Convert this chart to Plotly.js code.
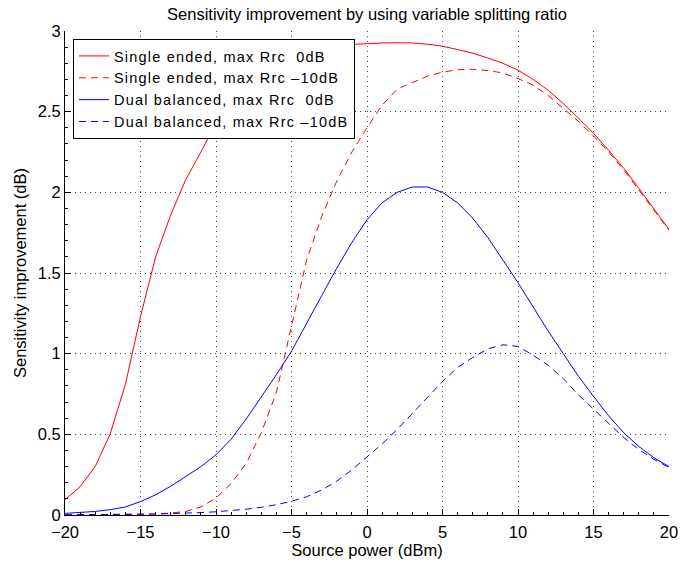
<!DOCTYPE html>
<html>
<head>
<meta charset="utf-8">
<script src="https://cdn.plot.ly/plotly-3.0.1.min.js"></script>
<style>
html,body{margin:0;padding:0;background:#fff;}
#chart{width:682px;height:566px;}
text.legendtext{letter-spacing:1.2px;}
</style>
</head>
<body>
<div id="chart"></div>
<script>
const sourcePower = [-20,-19,-18,-17,-16,-15,-14,-13,-12,-11,-10,-9,-8,-7,-6,-5,-4,-3,-2,-1,0,1,2,3,4,5,6,7,8,9,10,11,12,13,14,15,16,17,18,19,20];

const singleEnded0dB = [0.095,0.175,0.30,0.505,0.81,1.23,1.60,1.86,2.08,2.25,2.43,2.55,2.65,2.73,2.79,2.84,2.875,2.90,2.912,2.918,2.922,2.926,2.927,2.926,2.918,2.906,2.885,2.862,2.833,2.80,2.757,2.70,2.633,2.55,2.46,2.366,2.26,2.15,2.025,1.90,1.77];

const singleEndedM10dB = [0.0005,0.0007,0.001,0.0015,0.002,0.003,0.006,0.012,0.022,0.05,0.105,0.195,0.32,0.51,0.76,1.17,1.58,1.85,2.07,2.25,2.40,2.54,2.64,2.68,2.72,2.745,2.76,2.763,2.755,2.74,2.705,2.665,2.60,2.52,2.44,2.35,2.25,2.14,2.015,1.89,1.765];

const dualBalanced0dB = [0.01,0.015,0.022,0.033,0.05,0.083,0.125,0.178,0.24,0.30,0.373,0.47,0.595,0.73,0.87,1.015,1.19,1.36,1.53,1.69,1.83,1.935,2.0,2.033,2.033,2.0,1.935,1.84,1.72,1.58,1.44,1.29,1.14,1.0,0.86,0.736,0.615,0.51,0.425,0.355,0.30];

const dualBalancedM10dB = [0.001,0.001,0.002,0.003,0.004,0.005,0.006,0.008,0.011,0.015,0.02,0.027,0.036,0.048,0.064,0.085,0.113,0.155,0.21,0.28,0.362,0.44,0.53,0.628,0.728,0.828,0.915,0.976,1.03,1.055,1.045,0.99,0.928,0.845,0.745,0.655,0.565,0.48,0.405,0.345,0.295];

const seriesNames = [
  'Single ended, max Rrc\u00a0 0dB',
  'Single ended, max Rrc \u201310dB',
  'Dual balanced, max Rrc\u00a0 0dB',
  'Dual balanced, max Rrc \u201310dB'
];

const xTickVals = [-20,-15,-10,-5,0,5,10,15,20];
const yTickVals = [0,0.5,1,1.5,2,2.5,3];

const FONT = 'Liberation Sans, Arial, Helvetica, sans-serif';
const dashPat = '7px,5px';

const traces = [
  {x: sourcePower, y: singleEnded0dB, name: seriesNames[0], mode: 'lines', line: {color: '#ff0000', width: 1}},
  {x: sourcePower, y: singleEndedM10dB, name: seriesNames[1], mode: 'lines', line: {color: '#ff0000', width: 1, dash: dashPat}},
  {x: sourcePower, y: dualBalanced0dB, name: seriesNames[2], mode: 'lines', line: {color: '#0000ff', width: 1}},
  {x: sourcePower, y: dualBalancedM10dB, name: seriesNames[3], mode: 'lines', line: {color: '#0000ff', width: 1, dash: dashPat}}
];

const axisCommon = {
  showline: true, linecolor: '#000', linewidth: 1,
  ticks: 'inside', ticklen: 6, tickcolor: '#000', tickwidth: 1,
  showgrid: true, gridcolor: '#444', gridwidth: 1, griddash: '1px,4px',
  zeroline: false, mirror: false,
  tickfont: {family: FONT, size: 16.5, color: '#000'}
};

const layout = {
  width: 682, height: 566,
  margin: {l: 65, r: 13, t: 31, b: 51},
  paper_bgcolor: '#fff', plot_bgcolor: '#fff',
  font: {family: FONT, color: '#000'},
  showlegend: true,
  title: {text: 'Sensitivity improvement by using variable splitting ratio',
          font: {family: FONT, size: 16.5, color: '#000'},
          x: 0.5, xref: 'paper', y: 1 - 14/566, yref: 'container', yanchor: 'middle'},
  xaxis: Object.assign({}, axisCommon, {
    range: [-20, 20], tickmode: 'array', tickvals: xTickVals, ticklabelstandoff: 2,
    minor: {dtick: 1, tick0: -20, ticks: 'inside', ticklen: 3, tickcolor: '#000', showgrid: false},
    title: {text: 'Source power (dBm)', font: {family: FONT, size: 16.5, color: '#000'}, standoff: 1}
  }),
  yaxis: Object.assign({}, axisCommon, {
    range: [0, 3], tickmode: 'array', tickvals: yTickVals,
    minor: {dtick: 0.1, tick0: 0, ticks: 'inside', ticklen: 3, tickcolor: '#000', showgrid: false},
    title: {text: 'Sensitivity improvement (dB)', font: {family: FONT, size: 16.5, color: '#000'}, standoff: 6}
  }),
  legend: {
    x: (73 - 65) / 604, y: 1 - (39 - 31) / 484, xanchor: 'left', yanchor: 'top',
    bgcolor: '#fff', bordercolor: '#000', borderwidth: 1,
    font: {family: FONT, size: 14.5, color: '#000'},
    tracegroupgap: 0
  }
};

Plotly.newPlot('chart', traces, layout, {displayModeBar: false, staticPlot: true});
</script>
</body>
</html>
